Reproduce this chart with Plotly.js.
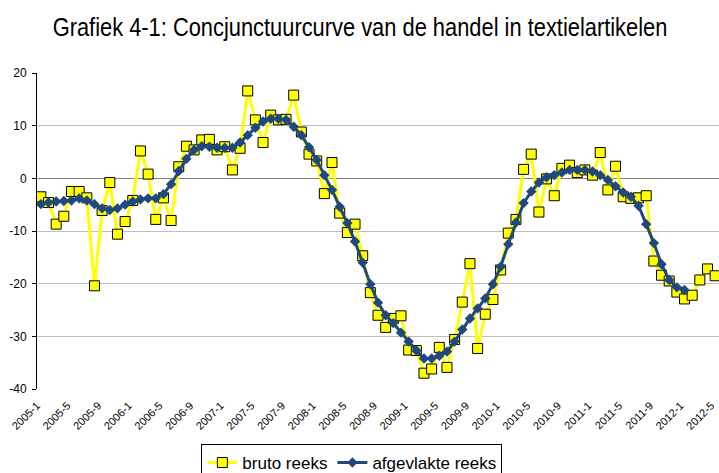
<!DOCTYPE html>
<html>
<head>
<meta charset="utf-8">
<script src="https://cdn.plot.ly/plotly-3.0.1.min.js"></script>
<style>
html,body{margin:0;padding:0;background:#fff;overflow:hidden;}
#chart{width:719px;height:473px;}
</style>
</head>
<body>
<div id="chart"></div>
<script>
// Data
var years = [2005, 2006, 2007, 2008, 2009, 2010, 2011, 2012];
var lastMonth2012 = 5;
var tickLabels = ["2005-1","2005-5","2005-9","2006-1","2006-5","2006-9","2007-1","2007-5","2007-9",
  "2008-1","2008-5","2008-9","2009-1","2009-5","2009-9","2010-1","2010-5","2010-9",
  "2011-1","2011-5","2011-9","2012-1","2012-5"];

var brutoReeks = [
  -3.5, -4.6, -8.7, -7.2, -2.5, -2.5, -3.7, -20.4, -6.1, -0.8, -10.6, -8.2,
  -4.2, 5.2, 0.8, -7.8, -3.7, -8.0, 2.2, 6.1, 5.4, 7.3, 7.4, 5.4,
  6.0, 1.6, 5.7, 16.6, 11.1, 6.8, 12.0, 11.1, 11.2, 15.8, 8.8, 4.6,
  3.3, -2.9, 3.0, -6.6, -10.3, -8.7, -14.7, -21.7, -26.0, -28.3, -26.6, -26.1,
  -32.6, -32.7, -37.0, -36.2, -32.1, -35.9, -30.6, -23.5, -16.2, -32.3, -25.8, -23.0,
  -17.4, -10.4, -7.8, 1.7, 4.6, -6.4, -0.1, -3.3, 1.9, 2.5, 1.1, 1.6,
  0.6, 4.9, -2.2, 2.3, -3.5, -3.8, -3.7, -3.3, -15.7, -18.4, -19.5, -21.6,
  -22.9, -22.2, -19.3, -17.2, -18.5
];

var afgevlakteReeks = [
  -4.9, -4.6, -4.4, -4.3, -4.2, -3.8, -4.2, -4.9, -5.7, -6.0, -5.7, -5.0,
  -4.4, -4.0, -3.8, -3.8, -3.0, -1.1, 1.4, 3.7, 5.4, 6.1, 6.0, 5.8,
  5.8, 5.8, 6.8, 8.2, 9.6, 10.8, 11.3, 11.3, 11.1, 9.8, 8.2, 5.9,
  3.5, 0.6, -2.2, -5.4, -8.5, -12.0, -16.0, -20.1, -23.6, -26.0, -27.5, -29.3,
  -31.0, -32.7, -34.2, -34.2, -33.7, -32.9, -31.0, -28.7, -26.6, -24.7, -22.8, -20.1,
  -16.8, -12.5, -8.4, -4.7, -2.5, -0.8, 0.2, 0.6, 1.1, 1.6, 1.6, 1.6,
  1.3, 0.6, -0.3, -1.5, -2.7, -3.5, -5.2, -8.7, -12.3, -16.3, -19.3, -20.7,
  -21.2, null, null, null, null
];

var months = [];
years.forEach(function(y){
  var maxM = (y === 2012) ? lastMonth2012 : 12;
  for (var m = 1; m <= maxM; m++) months.push(y + "-" + m);
});

var arial = "'Liberation Sans', Arial, sans-serif";

var traces = [
  {
    type: "scatter", mode: "lines+markers", name: "bruto reeks",
    x: months, y: brutoReeks,
    line: {color: "#FFFF00", width: 3},
    marker: {symbol: "square", size: 10, color: "#FFFF00", line: {color: "#000000", width: 1}}
  },
  {
    type: "scatter", mode: "lines+markers", name: "afgevlakte reeks",
    x: months, y: afgevlakteReeks,
    line: {color: "#1F497D", width: 3},
    marker: {symbol: "diamond", size: 8, color: "#1F497D"}
  }
];

var layout = {
  width: 719, height: 473,
  paper_bgcolor: "#ffffff", plot_bgcolor: "#ffffff",
  margin: {l: 37, r: 0, t: 73, b: 84, autoexpand: false},
  title: {
    text: "Grafiek 4-1: Concjunctuurcurve van de handel in textielartikelen",
    font: {family: arial, size: 25, color: "#000000"},
    x: 0.5007, xanchor: "center", y: 0.943, yanchor: "middle"
  },
  xaxis: {
    type: "category",
    categoryorder: "array", categoryarray: months,
    range: [-0.5, months.length - 0.5],
    tickmode: "array", tickvals: tickLabels, ticktext: tickLabels,
    tickangle: -45,
    tickfont: {family: arial, size: 11, color: "#000000"},
    ticklabelstandoff: 7, ticklabelshift: -4,
    showgrid: false, zeroline: false,
    showline: false, ticks: "",
    automargin: false
  },
  yaxis: {
    range: [-40, 20],
    tickvals: [-40, -30, -20, -10, 0, 10, 20],
    ticktext: ["-40", "-30", "-20", "-10", "0", "10", "20"],
    tickfont: {family: arial, size: 12, color: "#000000"},
    showgrid: true, gridcolor: "#BEBEBE", gridwidth: 1,
    zeroline: true, zerolinecolor: "#7F7F7F", zerolinewidth: 1,
    showline: true, linecolor: "#000000", linewidth: 1,
    ticks: "outside", ticklen: 4, tickcolor: "#000000",
    ticklabelstandoff: 3,
    automargin: false, fixedrange: true
  },
  showlegend: true,
  legend: {
    orientation: "h",
    x: 0.241, xanchor: "left",
    y: -0.174, yanchor: "top",
    bordercolor: "#000000", borderwidth: 1,
    font: {family: arial, size: 17, color: "#000000"},
    itemwidth: 30, tracegroupgap: 0
  }
};

Plotly.newPlot("chart", traces, layout, {displayModeBar: false, staticPlot: true}).then(function(gd){
  var t = gd.querySelector(".gtitle");
  if (t) {
    var cx = parseFloat(t.getAttribute("x"));
    var prev = t.getAttribute("transform") || "";
    t.setAttribute("transform", prev + " translate(" + cx + ",0) scale(0.875,1) translate(" + (-cx) + ",0)");
  }
});
</script>
</body>
</html>
